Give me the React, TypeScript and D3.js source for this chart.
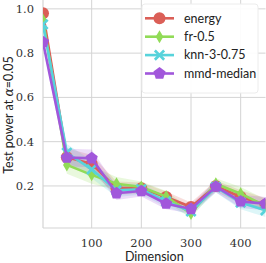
import React from "react";
import * as d3 from "d3";

const WIDTH = 266;
const HEIGHT = 263;
const MARGIN = { top: 0, right: 0.5, bottom: 35, left: 43 };

// data
const dims = [2, 50, 100, 150, 200, 250, 300, 350, 400, 450];
const energy = [0.98, 0.33, 0.3, 0.19, 0.19, 0.15, 0.105, 0.2, 0.15, 0.115];
const fr = [0.95, 0.295, 0.25, 0.21, 0.195, 0.152, 0.075, 0.21, 0.165, 0.11];
const knn = [0.93, 0.35, 0.275, 0.18, 0.185, 0.13, 0.085, 0.195, 0.125, 0.09];
const mmd = [0.85, 0.328, 0.325, 0.167, 0.177, 0.12, 0.096, 0.197, 0.13, 0.12];
// half width of the confidence band
const bandHalf = [0.015, 0.04, 0.04, 0.03, 0.025, 0.025, 0.02, 0.025, 0.03, 0.03];

const seriesNames = ["energy", "fr-0.5", "knn-3-0.75", "mmd-median"];
const colors = ["#db5f57", "#91db57", "#57d3db", "#a157db"];
const xTicks = [100, 200, 300, 400];
const yTicks = [0.2, 0.4, 0.6, 0.8, 1.0];

const allSeries = [energy, fr, knn, mmd];

// marker shapes, centred on 0,0
const markerPath = (i: number) => {
  if (i === 0) {
    return d3.symbol(d3.symbolCircle, Math.PI * 6 * 6)() || "";
  }
  if (i === 1) {
    const h = 6.5, w = 3.8;
    return `M0,${-h}L${w},0L0,${h}L${-w},0Z`;
  }
  if (i === 2) {
    const a = 5.6, t = 1.9;
    return `M${-a},${-a + t}L${-a + t},${-a}L0,${-t}L${a - t},${-a}L${a},${-a + t}L${t},0` +
      `L${a},${a - t}L${a - t},${a}L0,${t}L${-a + t},${a}L${-a},${a - t}L${-t},0Z`;
  }
  const r = 6.4;
  const pts = d3.range(5).map((k) => {
    const ang = -Math.PI / 2 + (k * 2 * Math.PI) / 5;
    return [r * Math.cos(ang), r * Math.sin(ang)];
  });
  return "M" + pts.map((p) => p.join(",")).join("L") + "Z";
};

export default function App() {
  const boundsWidth = WIDTH - MARGIN.left - MARGIN.right;
  const boundsHeight = HEIGHT - MARGIN.top - MARGIN.bottom;

  const xScale = d3.scaleLinear().domain([2, 450]).range([0, boundsWidth]);
  const yScale = d3.scaleLinear().domain([0.01, 1.04]).range([boundsHeight, 0]);

  const line = d3
    .line<number>()
    .x((_, i) => xScale(dims[i]))
    .y((d) => yScale(d));

  const area = d3
    .area<number>()
    .x((_, i) => xScale(dims[i]))
    .y0((d, i) => yScale(d - bandHalf[i]))
    .y1((d, i) => yScale(d + bandHalf[i]));

  const serif = "'DejaVu Serif', 'Liberation Serif', serif";
  const sans = "Lato, 'DejaVu Sans', sans-serif";

  return (
    <svg
      width={WIDTH}
      height={HEIGHT}
      style={{ position: "absolute", left: 0, top: 0, background: "#fff" }}
    >
      <defs>
        <clipPath id="plot-clip">
          <rect x={0} y={-10} width={boundsWidth} height={boundsHeight + 10} />
        </clipPath>
      </defs>
      <g transform={`translate(${MARGIN.left},${MARGIN.top})`}>
        {/* grid */}
        {xTicks.map((t) => (
          <line key={"gx" + t} x1={xScale(t)} x2={xScale(t)} y1={0} y2={boundsHeight}
            stroke="#d4d4d4" strokeWidth={1} />
        ))}
        {yTicks.map((t) => (
          <line key={"gy" + t} x1={0} x2={boundsWidth} y1={yScale(t)} y2={yScale(t)}
            stroke="#d4d4d4" strokeWidth={1} />
        ))}
        <line x1={0} x2={0} y1={0} y2={boundsHeight} stroke="#d4d4d4" strokeWidth={1.2} />
        <line x1={0} x2={boundsWidth} y1={boundsHeight} y2={boundsHeight} stroke="#d4d4d4" strokeWidth={1.2} />

        <g clipPath="url(#plot-clip)">
          {allSeries.map((s, i) => (
            <path key={"band" + i} d={area(s) || ""} fill={colors[i]} fillOpacity={0.2} />
          ))}
          {allSeries.map((s, i) => (
            <g key={"ser" + i}>
              <path d={line(s) || ""} fill="none" stroke={colors[i]} strokeWidth={2.6} />
              {s.map((v, j) => (
                <path key={j} d={markerPath(i)} fill={colors[i]}
                  transform={`translate(${xScale(dims[j])},${yScale(v)})`} />
              ))}
            </g>
          ))}
        </g>

        {/* ticks */}
        {xTicks.map((t) => (
          <text key={"tx" + t} x={xScale(t)} y={boundsHeight + 19} textAnchor="middle"
            fontFamily={serif} fontSize={11.5} fill="#333">{t}</text>
        ))}
        {yTicks.map((t) => (
          <text key={"ty" + t} x={-9} y={yScale(t)} dy="0.35em" textAnchor="end"
            fontFamily={serif} fontSize={11.5} fill="#333">{t.toFixed(1)}</text>
        ))}

        <text x={boundsWidth / 2} y={HEIGHT - 2} textAnchor="middle" fontFamily={sans}
          fontSize={12.5} fill="#222">Dimension</text>
        <text transform={`translate(${-30.5},${boundsHeight / 2 + 1}) rotate(-90)`} textAnchor="middle"
          fontFamily={sans} fontSize={12.5} fill="#222">
          Test power at <tspan fontFamily={serif} fontStyle="italic">α</tspan>=0.05
        </text>
      </g>

      {/* legend */}
      <g>
        <rect x={142} y={4} width={116} height={89} fill="#fff" fillOpacity={0.92} stroke="#ececec" rx={3} />
        {seriesNames.map((name, i) => {
          const y = 18.3 + i * 18.4;
          return (
            <g key={"lg" + name}>
              <line x1={145} x2={174} y1={y} y2={y} stroke={colors[i]} strokeWidth={2.6} />
              <path d={markerPath(i)} fill={colors[i]} transform={`translate(159.5,${y})`} />
              <text x={184} y={y} dy="0.35em" fontFamily={sans} fontSize={12.5} fill="#222">{name}</text>
            </g>
          );
        })}
      </g>
    </svg>
  );
}
